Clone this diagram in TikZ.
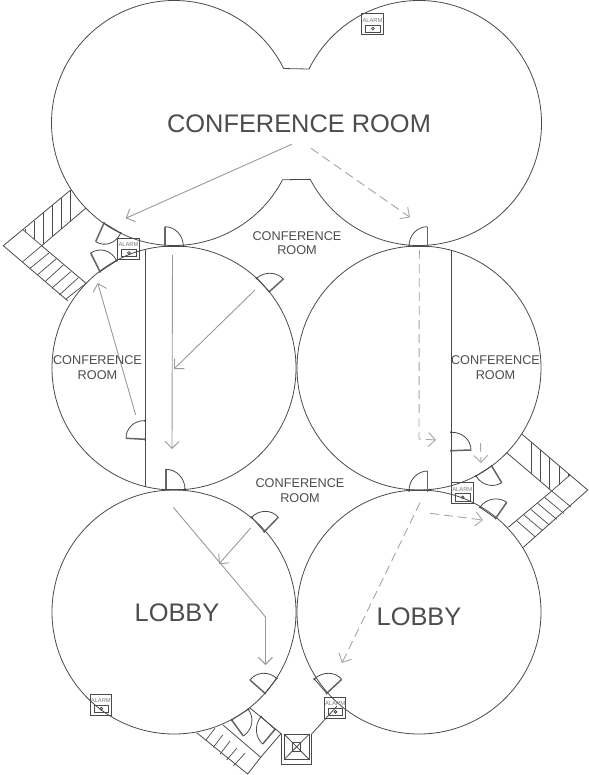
\documentclass[tikz,border=0pt]{standalone}
\usepackage{fontspec}
\setmainfont{Liberation Sans}
\usetikzlibrary{calc,arrows.meta}
\definecolor{wallc}{HTML}{4A4A4A}
\definecolor{textc}{HTML}{4D4D4D}
\definecolor{alarmc}{HTML}{7A7A7A}
\definecolor{arrc}{HTML}{9A9A9A}
\definecolor{arrd}{HTML}{A6A6A6}
\tikzset{
  wall/.style={draw=wallc,line width=0.8pt},
  leaf/.style={draw=wallc!85,line width=1.5pt},
  tread/.style={draw=wallc,line width=0.7pt},
  flow/.style={draw=arrc,line width=0.9pt,-{Straight Barb[length=7pt,width=14pt,line width=0.9pt]}},
  flowd/.style={flow,draw=arrd,dash pattern=on 9pt off 5pt},
  bigtxt/.style={text=textc,font=\fontsize{25.4}{28}\selectfont,inner sep=0pt},
  smalltxt/.style={text=textc,font=\fontsize{12.7}{14.6}\selectfont,inner sep=0pt,align=center},
  alarmtxt/.style={text=alarmc,font=\fontsize{5.8}{6}\selectfont,inner sep=0pt}
}
\newcommand{\doorway}[3]{%
  \fill[wallc] (#1) circle (1.2pt) (#3) circle (1.2pt);
  \draw[wall] (#1) -- (#3);
  \draw[leaf] (#1) -- (#2);
  \draw[wall] (#2) .. controls ($(#2)+0.5523*(#3)-0.5523*(#1)$) and ($(#3)+0.5523*(#2)-0.5523*(#1)$) .. (#3);
}
\newcommand{\alarmbox}[3]{% name, x, y of upper left corner
  \draw[draw=wallc,line width=1pt] (#2,#3) rectangle ++(21.5,21);
  \node[alarmtxt] (#1) at (#2+10.8,#3+6.5) {ALARM};
  \draw[wall] (#2+4,#3+11) rectangle ++(14.4,7.3);
  \draw[wall] (#2+11.2,#3+14.6) circle (1.4pt);
}
\begin{document}
\begin{tikzpicture}[x=1pt,y=-1pt]
\useasboundingbox (0,0) rectangle (588,775);
\fill[white] (0,0) rectangle (588,775);

% top room: two merged circles
\draw[wall] ($(419,123)+(206.15:122.5)$) arc[start angle=206.15,end angle=512.6,radius=122.5]
  -- ($(174,123)+(27.6:122.5)$) arc[start angle=27.6,end angle=333.6,radius=122.5] -- cycle;

% four round rooms
\draw[wall] (174,368) circle[radius=122];
\draw[wall] (419,368) circle[radius=122];
\draw[wall] (174,612) circle[radius=122];
\draw[wall] (419,612) circle[radius=122];

% straight walls
\draw[wall] (145,250) -- (145,487);
\draw[wall] (451,250) -- (451,483);

% left stairs
\draw[wall] (70.7,190) -- (3.3,245.7) -- (68,301);
\draw[wall] (86,208) -- (41.7,245.7) -- (86,283.3);
\draw[tread] (23.3,230) -- (41.7,245.7);
\foreach \x/\a/\b in {25/228.6/231.5,34.3/220.7/239.4,43.3/213.1/244.3,52.7/205.2/236.3,61.7/197.6/228.7,70.7/190/221}
  \draw[tread] (\x,\a) -- (\x,\b);
\draw[tread] (22.7,261.7) -- (41.7,245.7) (30,268.3) -- (49.3,252.7) (37.3,275) -- (56.7,258.3) (45,281.7) -- (63.3,265) (51.7,288.3) -- (70.7,271.7) (59.3,295) -- (78.3,277.7) (65.7,299.3) -- (86,283.3);

% right stairs
\draw[wall] (521.7,434) -- (587.7,490) -- (523.3,547.3);
\draw[wall] (506.7,452.7) -- (551.7,491) -- (508.3,527.3);
\draw[tread] (551.7,491) -- (570,475);
\draw[tread] (551.7,491) -- (571,507);
\foreach \x/\a/\b in {531/441.9/473.4,540/449.5/481,549.3/457.4/488.9,559/465.6/484.6,568.3/473.5/476.5}
  \draw[tread] (\x,\a) -- (\x,\b);
\draw[tread] (545,497.7) -- (563.7,513.3) (537.7,503.3) -- (556.7,519.3) (530.7,509.3) -- (549.3,525) (524,515) -- (542.7,530.7) (516.7,520.7) -- (535,536.7);

% bottom stairs
\draw[wall] (196.7,732.7) -- (247.7,774) -- (260.7,757.3);
\draw[wall] (250,708) -- (281,733.6) -- (260.7,757.3);
\draw[wall] (223,725) -- (260.7,757.3);
\draw[tread] (206,740) -- (215,728.3) (213.3,747.3) -- (222.7,735) (220,754.3) -- (230,741) (226.7,760) -- (236.7,748.3) (233.3,766) -- (245,753.3);

% lift
\draw[wall] (281,734) -- (281,764.3) -- (311.7,764.3) -- (311.7,734);
\draw[wall] (284.3,734.3) rectangle (309,759.3);
\draw[wall] (292.7,742.3) rectangle (300,751.7);
\draw[wall] (284.3,734.3) -- (309,759.3) (309,734.3) -- (284.3,759.3);
\draw[wall] (311.7,734) -- (337,706);

% doors
\doorway{104,223}{95.7,241.7}{120.7,233}
\doorway{100,271.7}{90.7,253}{116.7,260.7}
\doorway{165,246}{165,226.7}{183.3,246}
\doorway{427.3,246}{427.3,226.7}{409,246}
\doorway{269.3,291.7}{283.3,279}{256.7,278.3}
\doorway{145,439.3}{126,438.3}{145,420.7}
\doorway{166,489.3}{166,469.3}{185,489.3}
\doorway{264.3,531.7}{278.3,517.3}{251.7,517.3}
\doorway{265,693.3}{250,680}{276.7,678.3}
\doorway{326.7,693.3}{341.7,679.3}{314.3,679}
\doorway{231.7,720}{243.3,736}{248.3,709.3}
\doorway{275,729.3}{262.7,744}{261,716.7}
\doorway{451,450.7}{471,450}{451,432.3}
\doorway{427.7,490.7}{427.7,471}{409,490.7}
\doorway{491.7,466}{501.7,482.7}{476,476}
\doorway{495.7,518.3}{506.7,502.3}{480,507.3}

% alarms
\alarmbox{alarmtop}{361.7}{14}
\alarmbox{alarmleft}{117.7}{238.3}
\alarmbox{alarmright}{451.5}{482.7}
\alarmbox{alarmlobbyl}{90}{694}
\alarmbox{alarmlobbyr}{324.3}{697.3}

% escape routes
\coordinate (r1a) at (291.7,144.3); \coordinate (r1b) at (125.7,218.3);
\coordinate (r2a) at (311,148.3);   \coordinate (r2b) at (410,217.3);
\coordinate (r3a) at (172.5,255);   \coordinate (r3b) at (172,449);
\coordinate (r4a) at (255,290);     \coordinate (r4b) at (174,369);
\coordinate (r5a) at (135.7,415);   \coordinate (r5b) at (97.7,283);
\coordinate (r6a) at (173.3,507.3); \coordinate (r6m) at (265.5,617); \coordinate (r6b) at (265.5,665);
\coordinate (r7a) at (250.7,528);   \coordinate (r7b) at (219,564);
\coordinate (r8a) at (419.3,250);   \coordinate (r8m) at (419,439); \coordinate (r8b) at (436,440);
\coordinate (r9a) at (480.5,443);   \coordinate (r9b) at (481,463);
\coordinate (r10a) at (430,513.3);  \coordinate (r10b) at (483,520);
\coordinate (r11a) at (420,502.7);  \coordinate (r11b) at (342,663);
\draw[flow] (r1a) -- (r1b);
\draw[flowd] (r2a) -- (r2b);
\draw[flow] (r3a) -- (r3b);
\draw[flow] (r4a) -- (r4b);
\draw[flow] (r5a) -- (r5b);
\draw[flow] (r6a) -- (r6m) -- (r6b);
\draw[flow] (r7a) -- (r7b);
\draw[flowd] (r8a) -- (r8m) -- (r8b);
\draw[flowd] (r9a) -- (r9b);
\draw[flowd] (r10a) -- (r10b);
\draw[flowd] (r11a) -- (r11b);

% labels
\node[bigtxt] (conf) at (299,123.5) {CONFERENCE ROOM};
\node[smalltxt] (c1) at (297,243) {CONFERENCE\\ROOM};
\node[smalltxt] (c2) at (97.5,367.5) {CONFERENCE\\ROOM};
\node[smalltxt] (c3) at (495.5,367.5) {CONFERENCE\\ROOM};
\node[smalltxt] (c4) at (300,490.5) {CONFERENCE\\ROOM};
\node[bigtxt] (l1) at (177,613) {LOBBY};
\node[bigtxt] (l2) at (419,617) {LOBBY};
\end{tikzpicture}
\end{document}
